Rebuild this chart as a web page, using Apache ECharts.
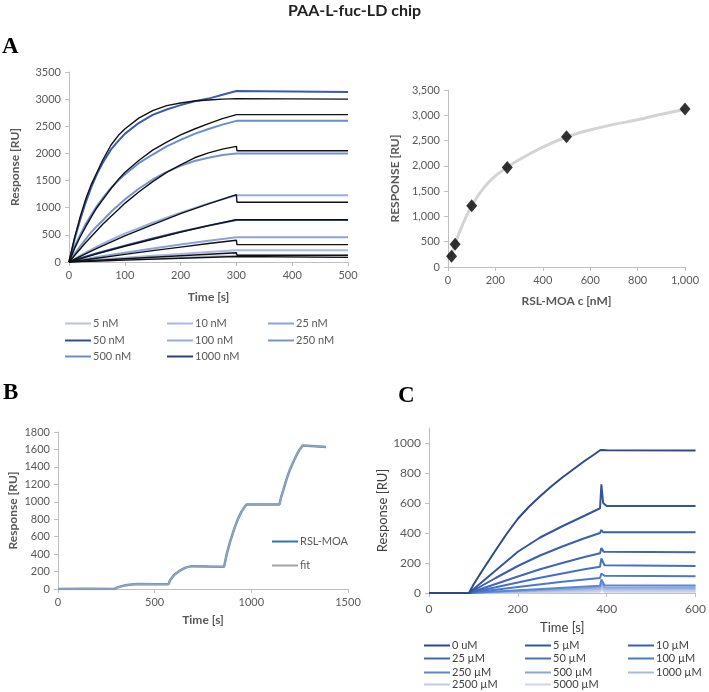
<!DOCTYPE html>
<html><head><meta charset="utf-8">
<script src="https://cdn.jsdelivr.net/npm/echarts@6/dist/echarts.min.js"></script>
<style>html,body{margin:0;padding:0;background:#fff}#c{width:709px;height:692px}</style>
</head><body><div id="c"></div>
<script>
// ---------- Panel A (sensorgrams) ----------
const aNames = ['5 nM','10 nM','25 nM','50 nM','100 nM','250 nM','500 nM','1000 nM'];
const aColors = ['#b9c3dd','#a9b8e0','#8da4d9','#2f4f9a','#98addf','#7893d2','#6a8bd3','#3a5cad'];
const aLegendColors = ['#b9c3dd','#a9b8e0','#8da4d9','#2f4f9a','#98addf','#7893d2','#6a8bd3','#243f8c'];
const a5nM   = [[0,0],[100,42],[200,82],[300,120],[500,120]];
const a10nM  = [[0,0],[50,40],[100,78],[150,113],[200,148],[250,182],[300,215],[500,215]];
const a25nM  = [[0,0],[25,48],[50,92],[100,172],[150,248],[200,322],[250,390],[300,454],[500,454]];
const a50nM  = [[0,0],[25,82],[50,160],[100,302],[150,432],[200,556],[250,670],[300,775],[500,775]];
const a100nM = [[0,0],[25,145],[50,282],[75,405],[100,522],[150,722],[200,910],[250,1080],[300,1230],[500,1230]];
const a250nM = [[0,0],[10,150],[20,290],[30,420],[40,550],[50,660],[60,760],[75,920],[90,1060],[100,1150],[125,1350],[150,1520],[175,1660],[200,1770],[225,1860],[250,1920],[275,1970],[300,2000],[500,2000]];
const a500nM = [[0,0],[10,280],[20,500],[30,700],[40,870],[50,1030],[60,1170],[75,1360],[90,1520],[100,1610],[125,1820],[150,1980],[175,2130],[200,2250],[225,2360],[250,2450],[275,2530],[300,2600],[500,2600]];
const a1000nM= [[0,0],[5,200],[10,420],[20,780],[30,1100],[40,1380],[50,1620],[60,1820],[75,2070],[90,2250],[100,2360],[125,2560],[150,2710],[175,2810],[200,2890],[225,2960],[250,3010],[275,3080],[300,3150],[303,3130],[500,3130]];
const aFit1 = [[0,0],[100,35],[200,68],[300,100],[301,85],[500,85]];
const aFit2 = [[0,0],[100,60],[200,115],[300,170],[301,125],[500,125]];
const aFit3 = [[0,0],[50,70],[100,140],[150,210],[200,275],[250,340],[300,400],[301,320],[500,320]];
const aFit4 = [[0,0],[25,76],[50,150],[100,290],[150,420],[200,550],[250,670],[300,780],[500,780]];
const aFit5 = [[0,0],[25,128],[50,250],[75,368],[100,480],[150,690],[200,890],[250,1070],[300,1240],[301,1100],[500,1100]];
const aFit6 = [[0,0],[10,120],[20,240],[30,360],[40,470],[50,580],[60,690],[75,840],[90,980],[100,1080],[125,1290],[150,1480],[175,1650],[200,1790],[225,1920],[250,2010],[275,2080],[300,2130],[301,2050],[500,2050]];
const aFit7 = [[0,0],[10,250],[20,460],[30,650],[40,830],[50,1000],[60,1140],[75,1350],[90,1540],[100,1650],[125,1870],[150,2060],[175,2210],[200,2340],[225,2450],[250,2550],[275,2640],[300,2715],[500,2715]];
const aFit8 = [[0,0],[5,230],[10,450],[20,830],[30,1160],[40,1430],[50,1650],[60,1870],[75,2150],[90,2350],[100,2450],[125,2650],[150,2790],[175,2880],[200,2930],[225,2965],[250,2985],[275,3000],[300,3010],[301,3000],[500,3000]];
const aBlue = [a5nM,a10nM,a25nM,a50nM,a100nM,a250nM,a500nM,a1000nM];
const aFits = [aFit1,aFit2,aFit3,aFit4,aFit5,aFit6,aFit7,aFit8];

// ---------- Panel A right (binding isotherm) ----------
const isoConc = [15,30,100,250,500,1000];
const isoResp = [211,449,1209,1968,2576,3124];
const isoFitX = [12,15,30,60,100,150,200,250,300,400,500,600,700,800,900,1000];
const isoFitY = [190,230,460,820,1210,1560,1800,1970,2120,2370,2570,2710,2820,2910,3020,3120];

// ---------- Panel B (single cycle kinetics) ----------
const bTime = [0,150,290,305,320,350,380,410,500,571,580,600,630,660,691,780,859,867,875,890,910,930,950,965,976,1060,1145,1155,1166,1185,1200,1220,1235,1250,1266,1330,1386];
const bRSL  = [0,3,0,15,27,42,52,57,55,55,100,160,210,245,262,258,255,340,420,540,680,800,890,940,970,970,968,1060,1140,1280,1370,1470,1540,1600,1645,1638,1628];
const bFit  = [0,3,0,15,27,42,52,57,55,55,100,160,210,245,262,258,255,340,420,540,680,800,890,940,970,970,968,1060,1140,1280,1370,1470,1540,1600,1645,1638,1628];

// ---------- Panel C (inhibition) ----------
const cNames = ['0 uM','5 µM','10 µM','25 µM','50 µM','100 µM','250 µM','500 µM','1000 µM','2500 µM','5000 µM'];
const cColors = ['#2c4a8c','#3356a0','#3a5fb0','#3f66b8','#4470c4','#4a78cc','#5b86d4','#8aa5dc','#a8badf','#c0cce8','#cdd6ec'];
const c0   = [[0,0],[90,0],[100,55],[120,150],[150,285],[175,395],[200,495],[225,575],[250,645],[275,710],[300,770],[325,825],[350,880],[370,920],[386,953],[400,952],[600,950]];
const c5   = [[0,0],[90,0],[120,75],[150,150],[200,275],[250,370],[300,445],[350,515],[385,565],[388,725],[392,600],[400,580],[600,580]];
const c10  = [[0,0],[90,0],[150,100],[200,180],[250,250],[300,310],[350,365],[385,400],[388,420],[392,405],[600,405]];
const c25  = [[0,0],[90,0],[150,60],[200,110],[250,158],[300,200],[350,240],[385,265],[388,300],[393,275],[600,272]];
const c50  = [[0,0],[90,0],[150,38],[200,70],[250,102],[300,130],[350,158],[385,175],[388,230],[395,185],[600,180]];
const c100 = [[0,0],[90,0],[200,40],[300,75],[385,100],[388,130],[395,115],[600,112]];
const c250 = [[0,0],[90,0],[385,48],[388,90],[395,52],[600,50]];
const c500 = [[0,0],[90,0],[385,36],[388,70],[395,38],[600,36]];
const c1000= [[0,0],[90,0],[385,26],[388,60],[395,27],[600,26]];
const c2500= [[0,0],[90,0],[385,16],[388,40],[395,16],[600,16]];
const c5000= [[0,0],[90,0],[385,8],[388,25],[395,8],[600,8]];
const cData = [c0,c5,c10,c25,c50,c100,c250,c500,c1000,c2500,c5000];

// ---------- build ----------
const FONT = 'Lato';
const axLine = {lineStyle:{color:'#bfbfbf'}};
const plain = v => String(v);
const comma = v => v.toLocaleString('en-US');
const lbl = {color:'#595959', fontFamily:FONT, fontSize:11, formatter:plain};
function valAxis(o){
  return Object.assign({type:'value', axisLine:Object.assign({show:true},axLine), axisTick:{show:true,length:4,lineStyle:{color:'#bfbfbf'}},
    splitLine:{show:false}, axisLabel:Object.assign({},lbl), nameTextStyle:{color:'#595959',fontFamily:FONT,fontSize:12,fontWeight:'bold'}}, o);
}
const grids = [
  {left:69, top:72, width:279, height:190},
  {left:448, top:90, width:237, height:177},
  {left:58, top:432, width:290, height:157},
  {left:429, top:428, width:271, height:165}
];
const xAxis = [
  valAxis({gridIndex:0, min:0, max:500, interval:100, name:'Time [s]', nameLocation:'middle', nameGap:29}),
  valAxis({gridIndex:1, min:0, max:1000, interval:200, name:'RSL-MOA c [nM]', nameLocation:'middle', nameGap:28,
    axisLabel:Object.assign({},lbl,{formatter:comma})}),
  valAxis({gridIndex:2, min:0, max:1500, interval:500, name:'Time [s]', nameLocation:'middle', nameGap:25}),
  valAxis({gridIndex:3, min:0, max:600, interval:200, name:'Time [s]', nameLocation:'middle', nameGap:28,
    axisLabel:Object.assign({},lbl,{fontSize:12,margin:10}),
    nameTextStyle:{color:'#404040',fontFamily:FONT,fontSize:13}})
];
const yAxis = [
  valAxis({gridIndex:0, min:0, max:3500, interval:500, name:'Response [RU]', nameLocation:'middle', nameGap:48}),
  valAxis({gridIndex:1, min:0, max:3500, interval:500, name:'RESPONSE [RU]', nameLocation:'middle', nameGap:47,
    axisLabel:Object.assign({},lbl,{formatter:comma})}),
  valAxis({gridIndex:2, min:0, max:1800, interval:200, name:'Response [RU]', nameLocation:'middle', nameGap:39}),
  valAxis({gridIndex:3, min:0, max:1100, interval:200, name:'Response [RU]', nameLocation:'middle', nameGap:34,
    axisLabel:Object.assign({},lbl,{fontSize:12,showMaxLabel:false}),
    nameTextStyle:{color:'#404040',fontFamily:FONT,fontSize:13}})
];
const series = [];
for (let i=0;i<8;i++){
  series.push({type:'line', name:aNames[i], xAxisIndex:0, yAxisIndex:0, data:aBlue[i], showSymbol:false, symbol:'none',
    color:aLegendColors[i], lineStyle:{color:aColors[i], width:2}, z:2});
}
for (let i=0;i<8;i++){
  series.push({type:'line', name:'fitA'+i, xAxisIndex:0, yAxisIndex:0, data:aFits[i], showSymbol:false, symbol:'none',
    lineStyle:{color:'#111', width:1.4}, z:3});
}
series.push({type:'line', name:'isofit', xAxisIndex:1, yAxisIndex:1, data:isoFitX.map((x,i)=>[x,isoFitY[i]]),
  showSymbol:false, symbol:'none', smooth:0.4, lineStyle:{color:'#d4d4d4', width:3}, z:2});
series.push({type:'scatter', name:'iso', xAxisIndex:1, yAxisIndex:1, data:isoConc.map((x,i)=>[x,isoResp[i]]),
  symbol:'diamond', symbolSize:[11,13], itemStyle:{color:'#000'}, z:3});
series.push({type:'line', name:'RSL-MOA', xAxisIndex:2, yAxisIndex:2, data:bTime.map((t,i)=>[t,bRSL[i]]),
  showSymbol:false, symbol:'none', color:'#2e75b6', lineStyle:{color:'#5b8ec4', width:2.5}, z:2});
series.push({type:'line', name:'fit', xAxisIndex:2, yAxisIndex:2, data:bTime.map((t,i)=>[t,bFit[i]]),
  showSymbol:false, symbol:'none', color:'#a5a5a5', lineStyle:{color:'#9aa3ad', width:1.5}, z:3});
for (let i=cData.length-1;i>=0;i--){
  series.push({type:'line', name:cNames[i], xAxisIndex:3, yAxisIndex:3, data:cData[i], showSymbol:false, symbol:'none',
    color:cColors[i], lineStyle:{color:cColors[i], width:2}, z:2});
}
const legends = [];
const legText = {color:'#595959', fontFamily:FONT, fontSize:11};
aNames.forEach((n,i)=>{
  legends.push({data:[n], left:[65,167,268][i%3], top:[318,335,351][Math.floor(i/3)], icon:'rect', itemWidth:26, itemHeight:2,
    padding:0, textStyle:Object.assign({},legText,{padding:[0,0,0,-3]}), selectedMode:false});
});
cNames.forEach((n,i)=>{
  legends.push({data:[n], left:[424,525,628][i%3], top:[640,653,667,679][Math.floor(i/3)], icon:'rect', itemWidth:26, itemHeight:2,
    padding:0, textStyle:Object.assign({},legText,{color:'#404040',padding:[0,0,0,-3]}), selectedMode:false});
});
legends.push({data:['RSL-MOA','fit'], left:272, top:536, orient:'vertical', icon:'rect', itemWidth:26, itemHeight:2, itemGap:13,
  padding:0, textStyle:Object.assign({},legText,{padding:[0,0,0,-3]}), selectedMode:false});

const option = {
  animation:false,
  backgroundColor:'#fff',
  grid:grids, xAxis:xAxis, yAxis:yAxis, series:series, legend:legends,
  graphic:[
    {type:'text', left:'center', top:3, style:{text:'PAA-L-fuc-LD chip', font:'bold 16px Lato', fill:'#222'}},
    {type:'text', left:2, top:36, style:{text:'A', font:'bold 23px "Liberation Serif"', fill:'#000'}},
    {type:'text', left:3, top:382, style:{text:'B', font:'bold 23px "Liberation Serif"', fill:'#000'}},
    {type:'text', left:398, top:385, style:{text:'C', font:'bold 23px "Liberation Serif"', fill:'#000'}}
  ]
};
const chart = echarts.init(document.getElementById('c'), null, {renderer:'canvas'});
chart.setOption(option);
</script></body></html>
